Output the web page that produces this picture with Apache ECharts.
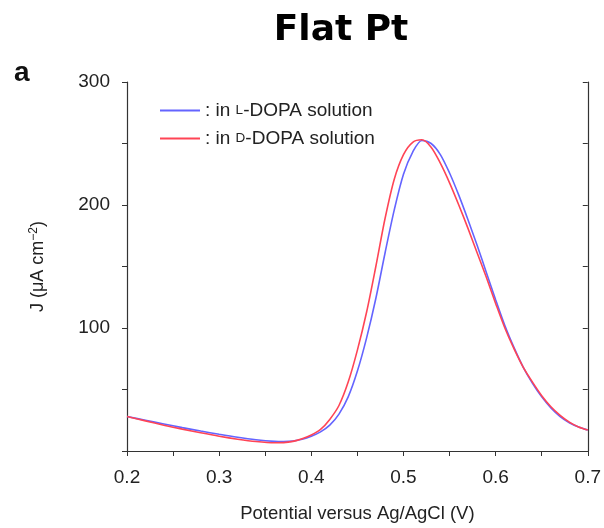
<!DOCTYPE html>
<html>
<head>
<meta charset="utf-8">
<script src="https://cdn.jsdelivr.net/npm/echarts@6/dist/echarts.min.js"></script>
<style>html,body{margin:0;padding:0;background:#fff;}#c{width:604px;height:528px;}</style>
</head>
<body>
<div id="c"></div>
<script>
const potential = [0.20,0.22,0.24,0.26,0.28,0.30,0.32,0.34,0.36,0.37,0.38,0.39,0.40,0.41,0.42,0.43,0.44,0.45,0.46,0.47,0.48,0.49,0.50,0.51,0.52,0.53,0.54,0.55,0.56,0.57,0.58,0.59,0.60,0.61,0.62,0.63,0.64,0.65,0.66,0.67,0.68,0.69,0.70];
const jL = [28,25,22,19,16.2,13.6,11.2,9.2,7.8,7.6,8,9.5,12,15.5,21,30,44,65,92,124,161,196,225,243,252.5,250,241,226,208,188,167,145,123,102,84,68,55,44,35,28,23,19.5,17];
const jD = [28,24.5,21,17.8,14.8,12,9.6,7.7,6.7,6.8,7.8,10,13,17.5,25.7,37,56,82,113,150,189,221,241,251,253,247,234,218,200,181,161,141,120,100,83,68,56,45,36,29,23.5,19.5,17];
const yTickLabels = [100,200,300];
const xTickLabels = [0.2,0.3,0.4,0.5,0.6,0.7];
const seriesNames = ['L', 'D'];

const chart = echarts.init(document.getElementById('c'));
const font = 'Liberation Sans, Arial, Helvetica, sans-serif';
const axisColor = '#333';
const pairs = arr => potential.map((x,i)=>[x,arr[i]]);

chart.setOption({
  animation:false,
  backgroundColor:'#fff',
  title:[
    {text:'Flat Pt', left:336, top:8, textAlign:'center',
     textStyle:{fontFamily:'DejaVu Sans', fontWeight:'bold', fontSize:36, color:'#000'}},
    {text:'a', left:9, top:54,
     textStyle:{fontFamily:font, fontWeight:'bold', fontSize:28, color:'#111'}}
  ],
  legend:{
    orient:'vertical', left:155, top:96, itemWidth:40, itemHeight:2, itemGap:9,
    icon:'rect',
    data:seriesNames,
    formatter: n => n==='L' ? ': in {sc|L}-DOPA solution' : ': in {sc|D}-DOPA solution',
    textStyle:{fontFamily:font, fontSize:19, color:'#222',
      rich:{sc:{fontFamily:font, fontSize:13.5, color:'#222'}}}
  },
  grid:{left:127, right:16, top:82, bottom:73},
  xAxis:[
    {type:'value', min:0.2, max:0.7, interval:0.05, position:'bottom',
     name:'Potential versus Ag/AgCl (V)', nameLocation:'middle', nameGap:53,
     nameTextStyle:{fontFamily:font, fontSize:18.5, color:'#222'},
     axisLine:{show:true, lineStyle:{color:axisColor, width:1.2}},
     axisTick:{show:true, inside:false, length:5, lineStyle:{color:axisColor}},
     axisLabel:{fontFamily:font, fontSize:19, color:'#222', margin:17,
       formatter: v => { const r = Math.round(v*100)/100; return xTickLabels.some(t=>Math.abs(t-r)<1e-6) ? r.toFixed(1) : ''; }},
     splitLine:{show:false}},
    {type:'value', min:0.2, max:0.7, interval:0.05, position:'top',
     axisLine:{show:true, lineStyle:{color:axisColor, width:1.2}},
     axisTick:{show:true, inside:true, length:5, lineStyle:{color:axisColor}},
     axisLabel:{show:false}, splitLine:{show:false}}
  ],
  yAxis:[
    {type:'value', min:0, max:300, interval:50, position:'left',
     name:'J (μA cm{sup|−2})', nameLocation:'middle', nameGap:78, nameRotate:90,
     nameTextStyle:{fontFamily:font, fontSize:18, color:'#222',
       rich:{sup:{fontFamily:font, fontSize:12, color:'#222', padding:[0,0,9,0]}}},
     axisLine:{show:true, lineStyle:{color:axisColor, width:1.2}},
     axisTick:{show:true, inside:false, length:5, lineStyle:{color:axisColor}},
     axisLabel:{fontFamily:font, fontSize:19, color:'#222', margin:17,
       formatter: v => yTickLabels.includes(Math.round(v)) ? String(Math.round(v)) : ''},
     splitLine:{show:false}},
    {type:'value', min:0, max:300, interval:50, position:'right',
     axisLine:{show:true, lineStyle:{color:axisColor, width:1.2}},
     axisTick:{show:true, inside:true, length:5, lineStyle:{color:axisColor}},
     axisLabel:{show:false}, splitLine:{show:false}}
  ],
  series:[
    {name:'L', type:'line', data:pairs(jL), smooth:0.3, symbol:'none',
     lineStyle:{color:'#6464ff', width:1.6}, itemStyle:{color:'#6464ff'}},
    {name:'D', type:'line', data:pairs(jD), smooth:0.3, symbol:'none',
     lineStyle:{color:'#ff4455', width:1.6}, itemStyle:{color:'#ff4455'}}
  ]
});
</script>
</body>
</html>
